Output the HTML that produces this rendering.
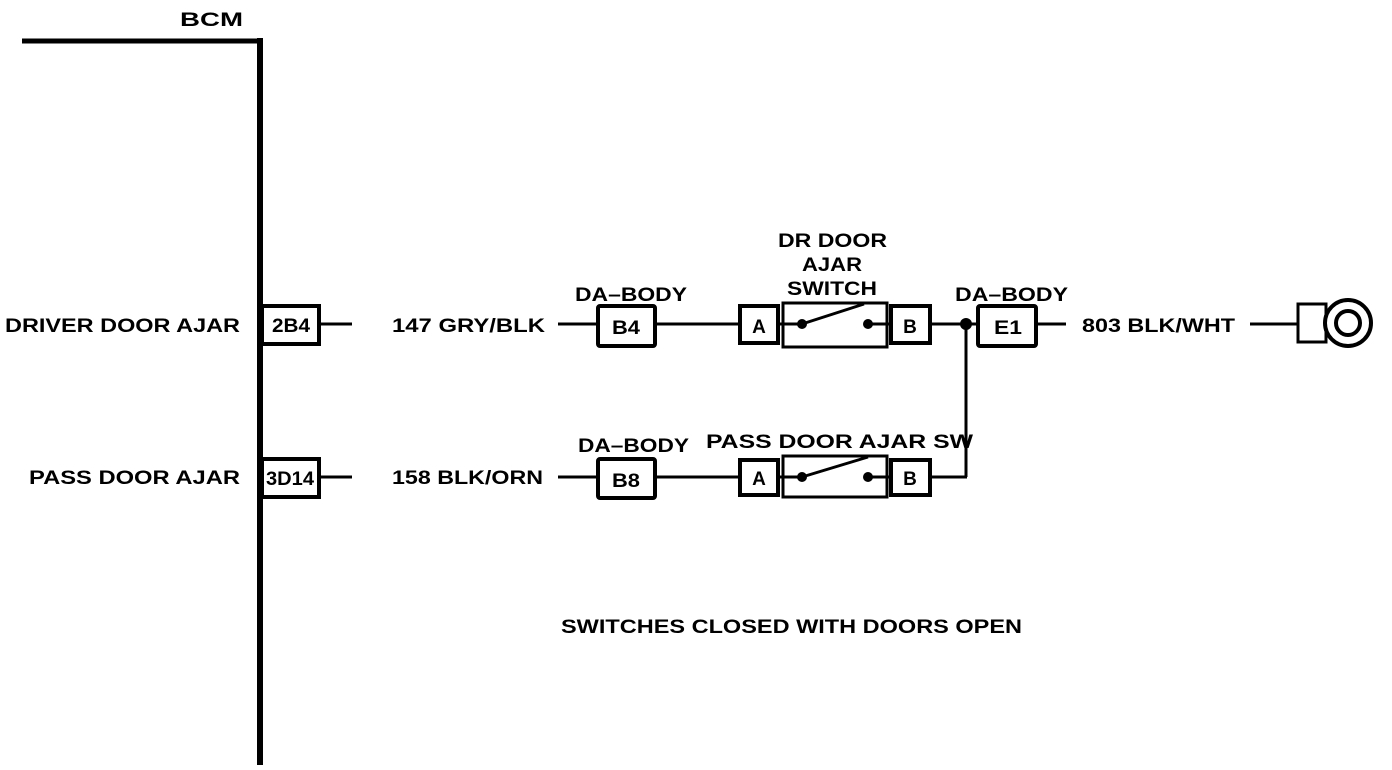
<!DOCTYPE html>
<html><head><style>body{margin:0;background:#fff}svg{display:block}text{font-family:"Liberation Sans",Arial,sans-serif;font-weight:bold;font-size:19px;fill:#000}</style></head>
<body>
<svg width="1392" height="770" viewBox="0 0 1392 770">
<g stroke="#000" fill="none">
<line x1="22" y1="41" x2="262" y2="41" stroke-width="5"/>
<line x1="260" y1="38" x2="260" y2="765" stroke-width="6"/>
<rect x="262" y="306" width="57" height="38" stroke-width="4"/>
<rect x="262" y="459" width="57" height="38" stroke-width="4"/>
<line x1="320" y1="324" x2="352" y2="324" stroke-width="3"/>
<line x1="320" y1="477" x2="352" y2="477" stroke-width="3"/>
<line x1="558" y1="324" x2="598" y2="324" stroke-width="3"/>
<rect x="598" y="306" width="57" height="40" stroke-width="4" rx="2"/>
<line x1="655" y1="324" x2="740" y2="324" stroke-width="3"/>
<rect x="740" y="306" width="38" height="37" stroke-width="4"/>
<rect x="783" y="303" width="104" height="44" stroke-width="3"/>
<rect x="891" y="306" width="39" height="37" stroke-width="4"/>
<line x1="778" y1="324" x2="802" y2="324" stroke-width="3"/>
<line x1="868" y1="324" x2="891" y2="324" stroke-width="3"/>
<line x1="802" y1="324" x2="864" y2="304" stroke-width="3"/>
<line x1="930" y1="324" x2="978" y2="324" stroke-width="3"/>
<rect x="978" y="306" width="58" height="40" stroke-width="4" rx="2"/>
<line x1="1036" y1="324" x2="1066" y2="324" stroke-width="3"/>
<line x1="1250" y1="324" x2="1298" y2="324" stroke-width="3"/>
<line x1="966" y1="324" x2="966" y2="477" stroke-width="3"/>
<line x1="558" y1="477" x2="598" y2="477" stroke-width="3"/>
<rect x="598" y="459" width="57" height="39" stroke-width="4" rx="2"/>
<line x1="655" y1="477" x2="740" y2="477" stroke-width="3"/>
<rect x="740" y="460" width="38" height="35" stroke-width="4"/>
<rect x="783" y="456" width="104" height="41" stroke-width="3"/>
<rect x="891" y="460" width="39" height="35" stroke-width="4"/>
<line x1="778" y1="477" x2="802" y2="477" stroke-width="3"/>
<line x1="868" y1="477" x2="891" y2="477" stroke-width="3"/>
<line x1="802" y1="477" x2="868" y2="457" stroke-width="3"/>
<line x1="930" y1="477" x2="967" y2="477" stroke-width="3"/>
<rect x="1298" y="304" width="28" height="38" stroke-width="3"/>
<circle cx="1348" cy="323" r="23" stroke-width="4" fill="#fff"/>
<circle cx="1348" cy="323" r="12" stroke-width="4"/>
</g>
<g fill="#000">
<circle cx="802" cy="324" r="5"/><circle cx="868" cy="324" r="5"/>
<circle cx="802" cy="477" r="5"/><circle cx="868" cy="477" r="5"/>
<circle cx="966" cy="324" r="6"/>
</g>
<g>
<text x="180" y="26" textLength="63" lengthAdjust="spacingAndGlyphs">BCM</text>
<text x="5" y="332" textLength="235" lengthAdjust="spacingAndGlyphs">DRIVER DOOR AJAR</text>
<text x="29" y="484" textLength="211" lengthAdjust="spacingAndGlyphs">PASS DOOR AJAR</text>
<text x="272" y="332" textLength="38" lengthAdjust="spacingAndGlyphs">2B4</text>
<text x="266" y="485" textLength="48" lengthAdjust="spacingAndGlyphs">3D14</text>
<text x="392" y="332" textLength="153" lengthAdjust="spacingAndGlyphs">147 GRY/BLK</text>
<text x="392" y="484" textLength="151" lengthAdjust="spacingAndGlyphs">158 BLK/ORN</text>
<text x="575" y="301" textLength="112" lengthAdjust="spacingAndGlyphs">DA–BODY</text>
<text x="578" y="452" textLength="111" lengthAdjust="spacingAndGlyphs">DA–BODY</text>
<text x="612" y="334" textLength="28" lengthAdjust="spacingAndGlyphs">B4</text>
<text x="612" y="487" textLength="28" lengthAdjust="spacingAndGlyphs">B8</text>
<text x="759" y="333" text-anchor="middle">A</text>
<text x="759" y="485" text-anchor="middle">A</text>
<text x="910" y="333" text-anchor="middle">B</text>
<text x="910" y="485" text-anchor="middle">B</text>
<text x="778" y="247" textLength="109" lengthAdjust="spacingAndGlyphs">DR DOOR</text>
<text x="802" y="271" textLength="60" lengthAdjust="spacingAndGlyphs">AJAR</text>
<text x="787" y="295" textLength="90" lengthAdjust="spacingAndGlyphs">SWITCH</text>
<text x="706" y="448" textLength="267" lengthAdjust="spacingAndGlyphs">PASS DOOR AJAR SW</text>
<text x="955" y="301" textLength="113" lengthAdjust="spacingAndGlyphs">DA–BODY</text>
<text x="994" y="334" textLength="28" lengthAdjust="spacingAndGlyphs">E1</text>
<text x="1082" y="332" textLength="153" lengthAdjust="spacingAndGlyphs">803 BLK/WHT</text>
<text x="561" y="633" textLength="461" lengthAdjust="spacingAndGlyphs">SWITCHES CLOSED WITH DOORS OPEN</text>
</g>
</svg>
</body></html>
